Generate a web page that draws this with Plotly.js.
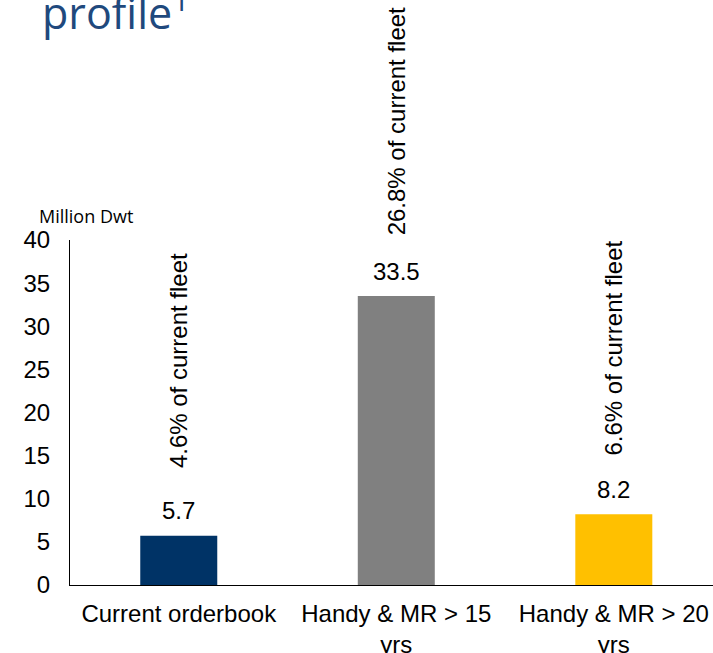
<!DOCTYPE html>
<html>
<head>
<meta charset="utf-8">
<script src="https://cdn.plot.ly/plotly-3.0.1.min.js"></script>
<style>html,body{margin:0;padding:0;background:#fff;}#chart{width:713px;height:653px;}</style>
</head>
<body>
<div id="chart"></div>
<script>
const categories = ["Current orderbook", "Handy & MR > 15<br>yrs", "Handy & MR > 20<br>yrs"];
const values = [5.7, 33.5, 8.2];
const valueLabels = ["5.7", "33.5", "8.2"];
const shareLabels = ["4.6% of current fleet", "26.8% of current fleet", "6.6% of current fleet"];
const barColors = ["#003366", "#808080", "#FFC000"];
const yTicks = [0, 5, 10, 15, 20, 25, 30, 35, 40];
const shareShift = [66, 59, 57];

const FONT = "Liberation Sans, Arial, sans-serif";

const trace = {
  type: "bar",
  x: categories,
  y: values,
  marker: { color: barColors },
  width: 0.354,
  hoverinfo: "none"
};

const annotations = [];
categories.forEach((c, i) => {
  annotations.push({
    x: c, y: values[i], xref: "x", yref: "y",
    text: valueLabels[i], showarrow: false,
    yanchor: "middle", yshift: 25,
    font: { family: FONT, size: 24, color: "#000" }
  });
  annotations.push({
    x: c, y: values[i], xref: "x", yref: "y",
    text: shareLabels[i], showarrow: false, textangle: -90,
    yanchor: "bottom", yshift: shareShift[i],
    font: { family: FONT, size: 24, color: "#000" }
  });
});
annotations.push({
  xref: "paper", yref: "paper", x: -0.0513, y: 1, xanchor: "left", yanchor: "middle",
  yshift: 24, showarrow: false, text: "Million Dwt",
  font: { family: "Open Sans, sans-serif", size: 18, color: "#000" }
});

const layout = {
  width: 713, height: 653,
  margin: { l: 70, r: 0, t: 240, b: 68, pad: 0 },
  paper_bgcolor: "#fff", plot_bgcolor: "#fff",
  showlegend: false,
  title: {
    text: "profile<sup>1</sup>",
    x: 0.059, xanchor: "left", xref: "container",
    y: 0.978, yanchor: "middle", yref: "container",
    font: { family: "Open Sans, sans-serif", size: 43, color: "#1F497D" }
  },
  xaxis: {
    type: "category",
    range: [-0.5, 2.456],
    showline: true, linecolor: "#000", linewidth: 1,
    showgrid: false, zeroline: false, ticks: "",
    ticklabelstandoff: 7,
    tickfont: { family: FONT, size: 24, color: "#000" }
  },
  yaxis: {
    range: [0, 40],
    tickvals: yTicks,
    showline: true, linecolor: "#000", linewidth: 1,
    showgrid: false, zeroline: false, ticks: "",
    ticklabelstandoff: 14,
    tickfont: { family: FONT, size: 24, color: "#000" }
  },
  annotations: annotations
};

Plotly.newPlot("chart", [trace], layout, { staticPlot: true, displayModeBar: false });
</script>
</body>
</html>
